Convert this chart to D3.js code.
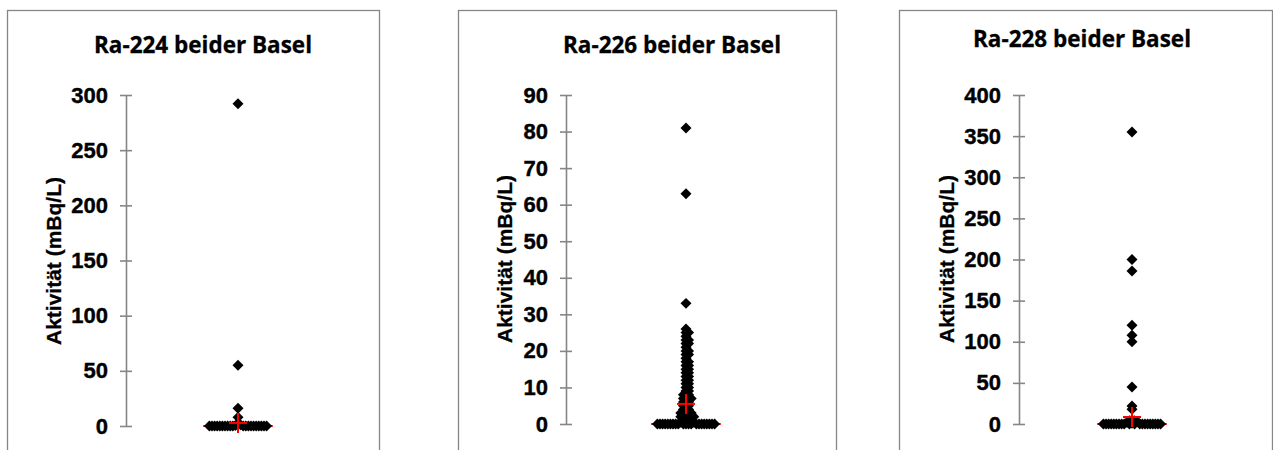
<!DOCTYPE html>
<html>
<head>
<meta charset="utf-8">
<script src="https://cdn.jsdelivr.net/npm/d3@7"></script>
<style>
  body { margin: 0; background: white; }
  svg { display: block; }
</style>
</head>
<body>
<div id="chart"></div>
<script>
// values (mBq/L)
const titles = ["Ra-224 beider Basel", "Ra-226 beider Basel", "Ra-228 beider Basel"];
const yLabel = "Aktivität (mBq/L)";

const ra224 = [292, 55, 16, 8, 2, 1, 0.5,
  0, 0, 0, 0, 0, 0, 0, 0, 0, 0, 0, 0, 0, 0, 0, 0, 0, 0, 0, 0];
const ra226 = [81, 63, 33, 26, 25, 25, 24, 23, 23, 22, 22, 21, 20, 20, 19, 19, 18, 17, 17, 16, 16, 15, 15, 14, 14,
  13, 13, 12, 12, 11, 11, 10, 10, 9, 9, 8, 8, 8, 7, 7, 7, 7, 6, 6, 6, 5, 5, 5, 4, 4, 4, 3, 3, 3, 3, 3,
  2, 2, 2, 2, 2, 2, 1, 1, 1, 1, 0.5, 0.5,
  0, 0, 0, 0, 0, 0, 0, 0, 0, 0, 0, 0, 0, 0, 0, 0, 0, 0, 0, 0, 0];
const ra228 = [355, 200, 186, 120, 108, 100, 45, 22, 18, 5, 4, 4, 3, 2, 1,
  0, 0, 0, 0, 0, 0, 0, 0, 0, 0, 0, 0, 0, 0, 0, 0, 0, 0, 0, 0];

const means = [2.8, 5.5, 8.5];
const medians = [0, 0, 0];

const yMax = [300, 90, 400];
const yStep = [50, 10, 50];

// layout of each panel (page pixels)
const panels = [
  { frameX: 7, frameW: 372, axisX: 126, cx: 238, titleX: 203, titleY: 53, labelX: 54, labelY: 261, top: 95, bottom: 426 },
  { frameX: 458, frameW: 378, axisX: 566, cx: 686, titleX: 672, titleY: 53, labelX: 505, labelY: 259, top: 95, bottom: 424 },
  { frameX: 899, frameW: 373, axisX: 1019, cx: 1132, titleX: 1082, titleY: 47, labelX: 947, labelY: 259, top: 95, bottom: 424 }
];
const series = [ra224, ra226, ra228];

const frameTop = 10;
const axisColor = "#868686";
const markerSize = 60;
const swarmGap = 2.6;

const svg = d3.select("#chart")
  .append("svg")
  .attr("width", 1273)
  .attr("height", 450);

// simple beeswarm: push each point sideways until it clears the ones already placed
function swarm(values, y) {
  const placed = [];
  const sorted = values.slice().sort((a, b) => b - a);
  sorted.forEach(v => {
    const py = y(v);
    let k = 0;
    let dx = 0;
    while (true) {
      dx = k === 0 ? 0 : (k % 2 ? 1 : -1) * Math.ceil(k / 2) * swarmGap;
      const hit = placed.some(p => Math.hypot(p.dx - dx, p.y - py) < swarmGap - 0.01);
      if (!hit) break;
      k++;
    }
    placed.push({ v, y: py, dx });
  });
  return placed;
}

function drawPanel(i) {
  const p = panels[i];
  const g = svg.append("g");

  g.append("rect")
    .attr("x", p.frameX + 0.5)
    .attr("y", frameTop + 0.5)
    .attr("width", p.frameW)
    .attr("height", 500)
    .attr("fill", "white")
    .attr("stroke", axisColor)
    .attr("stroke-width", 1.3);

  g.append("text")
    .attr("x", p.titleX)
    .attr("y", p.titleY)
    .attr("text-anchor", "middle")
    .attr("font-family", "Open Sans")
    .attr("font-weight", "bold")
    .attr("font-size", 22.5)
    .attr("textLength", 218)
    .attr("lengthAdjust", "spacingAndGlyphs")
    .attr("fill", "black")
    .attr("stroke", "black")
    .attr("stroke-width", 0.3)
    .text(titles[i]);

  const y = d3.scaleLinear().domain([0, yMax[i]]).range([p.bottom, p.top]);
  const x = d3.scaleLinear().domain([-1, 1]).range([p.cx - 40, p.cx + 40]);

  const axis = d3.axisLeft(y)
    .tickValues(d3.range(0, yMax[i] + 1, yStep[i]))
    .tickSize(6)
    .tickSizeOuter(0)
    .tickPadding(12);

  const ax = g.append("g")
    .attr("transform", `translate(${p.axisX},0)`)
    .call(axis);
  ax.select(".domain").attr("stroke", axisColor).attr("stroke-width", 1.6);
  ax.selectAll(".tick line")
    .attr("x1", -6).attr("x2", 6)
    .attr("stroke", axisColor).attr("stroke-width", 1.6);
  ax.selectAll(".tick text")
    .attr("font-family", "Liberation Sans, Arial")
    .attr("font-weight", "bold")
    .attr("font-size", 22)
    .attr("fill", "black")
    .attr("stroke", "black")
    .attr("stroke-width", 0.4);

  g.append("text")
    .attr("transform", `translate(${p.labelX},${p.labelY}) rotate(-90)`)
    .attr("text-anchor", "middle")
    .attr("dy", "0.35em")
    .attr("font-family", "Liberation Sans, Arial")
    .attr("font-weight", "bold")
    .attr("font-size", 21)
    .attr("fill", "black")
    .attr("stroke", "black")
    .attr("stroke-width", 0.3)
    .text(yLabel);

  // median line under the points
  g.append("line")
    .attr("x1", x(-0.87)).attr("x2", x(0.87))
    .attr("y1", y(medians[i])).attr("y2", y(medians[i]))
    .attr("stroke", "red")
    .attr("stroke-width", 2);

  const pts = swarm(series[i], y);
  const pxPerUnit = (x(1) - x(0));
  g.selectAll("path.pt")
    .data(pts)
    .enter()
    .append("path")
    .attr("class", "pt")
    .attr("d", d3.symbol(d3.symbolSquare, markerSize)())
    .attr("transform", d => `translate(${x(d.dx / pxPerUnit)},${d.y}) rotate(45)`)
    .attr("fill", "black");

  // mean cross
  const my = y(means[i]);
  g.append("line")
    .attr("x1", p.cx - 9).attr("x2", p.cx + 9)
    .attr("y1", my).attr("y2", my)
    .attr("stroke", "red").attr("stroke-width", 2);
  g.append("line")
    .attr("x1", p.cx).attr("x2", p.cx)
    .attr("y1", my - 10).attr("y2", my + 10)
    .attr("stroke", "red").attr("stroke-width", 2);
}

panels.forEach((p, i) => drawPanel(i));
</script>
</body>
</html>
